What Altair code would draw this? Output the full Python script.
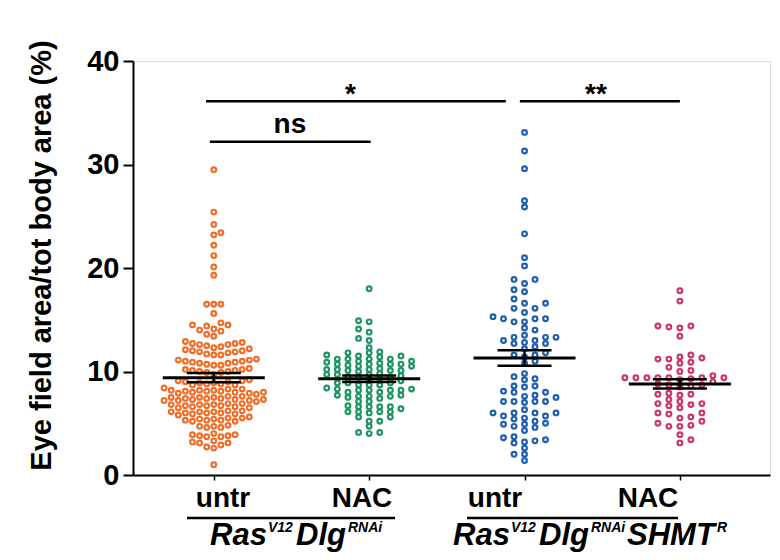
import altair as alt
import pandas as pd
import numpy as np

# ---------------- data ----------------
group_labels = ["untr", "NAC", "untr", "NAC"]
colors = ["#F06E28", "#1E9664", "#1F5FAF", "#CD3769"]

orange = [29.5, 25.4, 24.2, 23.4, 23.2, 22.2, 21.2, 20.1, 19.3,
          16.5, 16.5, 16.5, 15.6,
          14.7, 14.5, 14.5, 14.4,
          14.1, 14.0, 13.9, 13.6, 13.4,
          12.9, 12.8, 12.7, 12.7, 12.6, 12.6, 12.5, 12.4, 12.3, 12.2,
          12.1, 12.0, 12.0, 11.9, 11.9, 11.8, 11.7, 11.6, 11.6,
          11.2, 11.1, 11.1, 11.0, 11.0, 10.9, 10.9, 10.8, 10.8, 10.7, 10.6, 10.6,
          10.3, 10.2, 10.2, 10.1, 10.1, 10.0, 10.0, 9.9, 9.9, 9.7,
          9.2, 9.1, 9.1, 9.0, 9.0, 8.9, 8.9, 8.8, 8.8, 8.7, 8.7,
          8.4, 8.3, 8.3, 8.2, 8.2, 8.2, 8.1, 8.1, 8.1, 8.0, 8.0, 8.0, 7.9, 7.9, 7.8,
          7.6, 7.6, 7.5, 7.5, 7.5, 7.4, 7.4, 7.4, 7.3, 7.3, 7.3, 7.2, 7.2, 7.2, 7.1,
          6.9, 6.9, 6.8, 6.8, 6.8, 6.7, 6.7, 6.7, 6.6, 6.6, 6.5, 6.5,
          6.2, 6.2, 6.1, 6.1, 6.1, 6.0, 6.0, 6.0, 5.9, 5.9, 5.8,
          5.6, 5.5, 5.5, 5.4, 5.4, 5.3, 5.3, 5.3, 5.2, 5.2,
          4.8, 4.7, 4.7, 4.6, 4.6,
          4.0, 3.9, 3.9, 3.8, 3.8, 3.7, 3.7,
          3.3, 3.2, 3.1, 3.1, 2.9,
          2.7, 2.6,
          1.0]

green = [18.0, 14.9, 14.8, 14.1, 13.8, 13.2, 13.0, 12.3,
         11.2, 10.7, 10.1, 9.7,
         11.9, 10.5, 9.6, 8.9, 8.3, 7.6, 6.4,
         11.6, 11.2, 10.7, 10.2, 8.0, 7.4, 6.1,
         11.8, 11.4, 10.9, 10.5, 10.0, 8.9, 8.2, 7.5, 6.6, 6.1, 5.6, 5.2, 4.0,
         11.5, 11.0, 10.6, 10.1, 8.9, 8.4, 8.0, 7.6, 7.1, 6.6, 6.1, 5.6, 5.2, 4.7, 4.1,
         11.8, 11.2, 10.7, 10.2, 9.7, 8.7, 8.2, 7.7, 7.1, 6.6, 6.1, 4.1,
         10.8, 10.3, 9.8, 8.7, 8.2, 7.6, 6.7,
         11.2, 10.7, 10.1, 9.7, 8.7, 8.2, 7.7, 6.6, 6.0,
         11.5, 11.0, 10.2, 9.4, 8.3,
         9.5, 9.4, 9.3, 9.2, 9.1]

blue = [33.1, 31.3, 29.6, 26.5, 25.9, 23.3, 21.0, 20.2,
        18.9, 18.9, 18.5, 17.9, 17.7, 17.0, 16.6, 16.6, 16.1, 16.1, 15.7, 15.3,
        15.1, 15.1, 15.1, 14.8, 14.8, 14.2, 14.0, 13.5, 13.3, 13.3, 13.3, 13.0,
        13.0, 12.8, 12.7, 12.7, 12.4, 12.2, 11.8, 11.6, 11.6, 11.4, 11.0, 10.8,
        9.8, 9.5, 9.3, 9.2, 8.6, 8.6, 8.5, 8.1, 8.0, 8.0, 7.7, 7.6, 7.5, 7.1,
        7.1, 7.1, 7.1, 7.0, 6.3, 6.0, 6.0, 6.0, 6.0, 5.7, 5.7, 5.5, 5.4, 5.2,
        5.0, 4.9, 4.9, 4.7, 4.6, 4.3, 3.7, 3.6, 3.4, 3.3, 3.2, 3.1, 2.6, 2.0,
        2.0, 1.4]

pink = [17.8, 16.8, 14.4, 14.3, 14.2, 14.4, 13.4, 11.6, 11.4, 11.3, 11.2,
        11.2, 10.9, 10.8, 10.4, 10.1, 10.0, 9.6, 9.4, 9.4, 9.4, 9.4, 9.4, 9.4,
        9.4, 9.3, 9.2, 9.0, 8.8, 8.7, 8.7, 8.6, 8.5, 7.9, 7.8, 7.8, 7.7, 7.3,
        7.1, 6.9, 6.9, 6.8, 6.7, 6.5, 6.0, 6.0, 5.9, 5.6, 5.5, 5.2, 5.0, 4.8,
        4.7, 4.7, 3.9, 3.4, 3.1]

means = [9.4, 9.3, 11.3, 8.8]
sems = [0.45, 0.32, 0.75, 0.45]

sig_labels = ["ns", "*", "**"]
sig_x1 = [0.975, 0.95, 2.97]
sig_x2 = [2.01, 2.88, 4.0]
sig_level = [32.2, 36.1, 36.1]
sig_text_x = [1.49, 1.88, 3.46]
sig_text_y = [33.0, 35.9, 35.9]

# ---------------- layout ----------------
W, H = 637, 414
XDOM = [0.48, 4.58]
YDOM = [0, 40]
PXX = W / (XDOM[1] - XDOM[0])
PXY = H / (YDOM[1] - YDOM[0])
LEFT, TOP = 133, 61  # page position of plot origin


def xu(px):
    return XDOM[0] + (px - LEFT) / PXX


def yu(py):
    return (TOP + H - py) / PXY


def swarm(vals, s, dymin):
    """column-snapped beeswarm offsets in pixels"""
    vals = np.asarray(vals, dtype=float)
    order = np.argsort(vals, kind="stable")
    placed = []
    offs = np.zeros(len(vals))
    for n, i in enumerate(order):
        y = vals[i] * PXY
        sign = 1 if n % 2 else -1
        cands = [0.0]
        for k in range(1, 80):
            cands += [sign * k * s / 2, -sign * k * s / 2]
        for c in cands:
            if all(not (abs(px - c) < s - 1e-6 and abs(py - y) < dymin) for px, py in placed):
                break
        placed.append((c, y))
        offs[i] = c
    return offs


series = [orange, green, blue, pink]
params = [(7.1, 6.6), (10.6, 5.0), (10.5, 6.2), (11.0, 5.5)]
rows = []
for gi, (vals, (s, d)) in enumerate(zip(series, params)):
    offs = swarm(vals, s, d)
    for v, o in zip(vals, offs):
        rows.append({"g": gi, "value": v, "x": gi + 1 + o / PXX})
pts = pd.DataFrame(rows)

summ = pd.DataFrame({
    "g": range(4),
    "pos": [1, 2, 3, 4],
    "mean": means,
    "lo": [m - s for m, s in zip(means, sems)],
    "hi": [m + s for m, s in zip(means, sems)],
})
summ["ml"] = summ["pos"] - 51 / PXX
summ["mr"] = summ["pos"] + 51 / PXX
summ["sl"] = summ["pos"] - 27 / PXX
summ["sr"] = summ["pos"] + 27 / PXX

sig = pd.DataFrame({"label": sig_labels, "x1": sig_x1, "x2": sig_x2, "y": sig_level,
                    "tx": sig_text_x, "ty": sig_text_y})

# annotation text below the axis
glab = pd.DataFrame({"t": group_labels,
                     "x": [xu(p) for p in [223, 362, 495, 648]],
                     "y": [yu(507)] * 4})
ulines = pd.DataFrame({"x1": [xu(187), xu(467)], "x2": [xu(395), xu(678)],
                       "y": [yu(518)] * 2})
geno_main = pd.DataFrame({"t": ["Ras", "Dlg", "Ras", "Dlg", "SHMT"],
                          "x": [xu(p) for p in [210, 296, 453, 539, 627]],
                          "y": [yu(545)] * 5})
geno_sup = pd.DataFrame({"t": ["V12", "RNAi", "V12", "RNAi", "R"],
                         "x": [xu(p) for p in [268, 348, 511, 591, 717]],
                         "y": [yu(532)] * 5})

FONT = "Liberation Sans"
xs = alt.Scale(domain=XDOM, nice=False, zero=False)
ys = alt.Scale(domain=YDOM, nice=False, zero=False)
xaxis = alt.Axis(values=[1, 2, 3, 4], labels=False, ticks=True, tickSize=5,
                 tickWidth=1.5, tickColor="black", domainColor="black",
                 domainWidth=2, grid=False, title=None)
yaxis = alt.Axis(values=[0, 10, 20, 30, 40], tickSize=10, tickWidth=2,
                 tickColor="black", domainColor="black", domainWidth=2,
                 labelFont=FONT, labelFontSize=29, labelFontWeight="bold",
                 labelColor="black", labelPadding=4, grid=False,
                 title="Eye field area/tot body area (%)", titleFont=FONT,
                 titleFontSize=29, titleFontWeight="bold", titleColor="black",
                 titlePadding=30, titleY=194)

points = alt.Chart(pts).mark_point(shape="circle", filled=False, size=22,
                                   strokeWidth=2.2, opacity=1).encode(
    x=alt.X("x:Q", scale=xs, axis=xaxis),
    y=alt.Y("value:Q", scale=ys, axis=yaxis),
    color=alt.Color("g:N", scale=alt.Scale(domain=[0, 1, 2, 3], range=colors), legend=None),
)

mean_rule = alt.Chart(summ).mark_rule(color="black", strokeWidth=3).encode(
    x=alt.X("ml:Q", scale=xs, axis=xaxis), x2="mr:Q",
    y=alt.Y("mean:Q", scale=ys, axis=yaxis))
sem_hi = alt.Chart(summ).mark_rule(color="black", strokeWidth=2.5).encode(
    x=alt.X("sl:Q", scale=xs, axis=xaxis), x2="sr:Q",
    y=alt.Y("hi:Q", scale=ys, axis=yaxis))
sem_lo = alt.Chart(summ).mark_rule(color="black", strokeWidth=2.5).encode(
    x=alt.X("sl:Q", scale=xs, axis=xaxis), x2="sr:Q",
    y=alt.Y("lo:Q", scale=ys, axis=yaxis))
sem_v = alt.Chart(summ).mark_rule(color="black", strokeWidth=2.5).encode(
    x=alt.X("pos:Q", scale=xs, axis=xaxis),
    y=alt.Y("lo:Q", scale=ys, axis=yaxis), y2="hi:Q")

sig_bars = alt.Chart(sig).mark_rule(color="black", strokeWidth=2.5).encode(
    x=alt.X("x1:Q", scale=xs, axis=xaxis), x2="x2:Q",
    y=alt.Y("y:Q", scale=ys, axis=yaxis))
sig_txt = alt.Chart(sig).mark_text(font=FONT, fontSize=28, fontWeight="bold",
                                   color="black", baseline="alphabetic",
                                   align="center").encode(
    x=alt.X("tx:Q", scale=xs, axis=xaxis),
    y=alt.Y("ty:Q", scale=ys, axis=yaxis), text="label:N")

glab_txt = alt.Chart(glab).mark_text(font=FONT, fontSize=28, fontWeight="bold",
                                     color="black", baseline="alphabetic",
                                     align="center").encode(
    x=alt.X("x:Q", scale=xs, axis=xaxis),
    y=alt.Y("y:Q", scale=ys, axis=yaxis), text="t:N")
ul = alt.Chart(ulines).mark_rule(color="black", strokeWidth=2.5).encode(
    x=alt.X("x1:Q", scale=xs, axis=xaxis), x2="x2:Q",
    y=alt.Y("y:Q", scale=ys, axis=yaxis))
gm = alt.Chart(geno_main).mark_text(font=FONT, fontSize=31, fontWeight="bold",
                                    fontStyle="italic", color="black",
                                    baseline="alphabetic", align="left").encode(
    x=alt.X("x:Q", scale=xs, axis=xaxis),
    y=alt.Y("y:Q", scale=ys, axis=yaxis), text="t:N")
gs = alt.Chart(geno_sup).mark_text(font=FONT, fontSize=14, fontWeight="bold",
                                   fontStyle="italic", color="black",
                                   baseline="alphabetic", align="left").encode(
    x=alt.X("x:Q", scale=xs, axis=xaxis),
    y=alt.Y("y:Q", scale=ys, axis=yaxis), text="t:N")

chart = alt.layer(points, mean_rule, sem_hi, sem_lo, sem_v, sig_bars, sig_txt,
                  glab_txt, ul, gm, gs).properties(
    width=W, height=H,
    autosize=alt.AutoSizeParams(type="none"),
    padding={"left": LEFT - 8, "top": TOP - 8, "right": 2, "bottom": 80},
).configure_view(stroke=None).configure(background="white")

chart.save("out.html", embed_options={"renderer": "svg", "actions": False})
